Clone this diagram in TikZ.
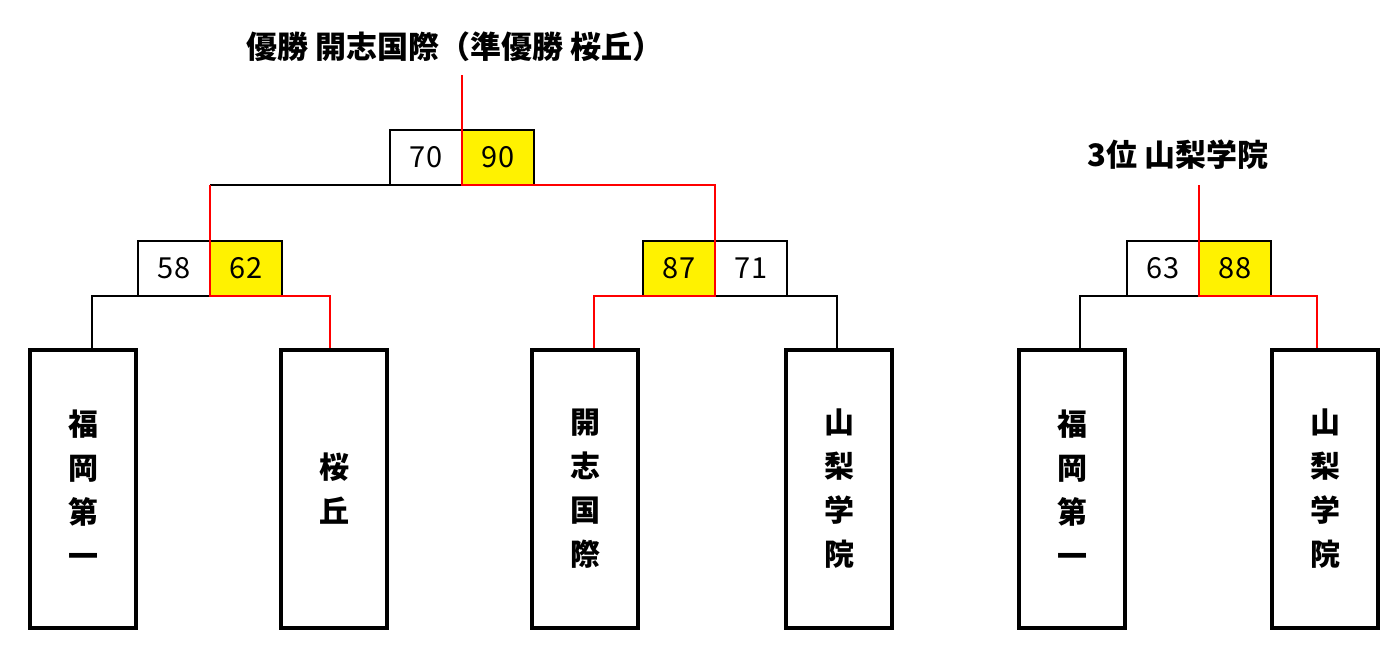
\documentclass[tikz,border=0pt]{standalone}
\usepackage{fontspec}
\setmainfont{Noto Sans CJK JP}
\usetikzlibrary{positioning}

\begin{document}
\begin{tikzpicture}[x=1pt, y=-1pt,
  team/.style={draw, line width=4pt, minimum width=106pt, minimum height=278pt, inner sep=0pt, align=center, font=\bfseries\fontsize{30}{44}\selectfont},
  score/.style={draw, line width=1.6pt, minimum width=72pt, minimum height=55pt, inner sep=0pt, outer sep=0pt, font=\fontsize{29}{30}\selectfont},
  won/.style={score, fill=yellow},
  title/.style={font=\bfseries\fontsize{31}{32}\selectfont},
  win/.style={draw=red, line width=1.6pt},
  lose/.style={draw=black, line width=1.6pt}]
\useasboundingbox (0,0) rectangle (1400,650);
\node[title] (champ) at (455,47) {優勝 開志国際（準優勝 桜丘）};
\node[title] (third) at (1178,155) {3位 山梨学院};
\coordinate (champtop) at (462,75);
\coordinate (thirdtop) at (1199,185);
\node[score] (f70) at (426,157.5) {70};
\node[won] (f90) [right=0pt of f70] {90};
\node[score] (s58) at (174,268.5) {58};
\node[won] (s62) [right=0pt of s58] {62};
\node[won] (s87) at (679,268.5) {87};
\node[score] (s71) [right=0pt of s87] {71};
\node[score] (b63) at (1163,268.5) {63};
\node[won] (b88) [right=0pt of b63] {88};
\node[team] (t1) at (83,489) {福\\岡\\第\\一};
\node[team] (t2) at (334,489) {桜\\丘};
\node[team] (t3) at (585,489) {開\\志\\国\\際};
\node[team] (t4) at (839,489) {山\\梨\\学\\院};
\node[team] (t5) at (1072,489) {福\\岡\\第\\一};
\node[team] (t6) at (1325,489) {山\\梨\\学\\院};
\path[lose] ([xshift=9pt]t1.north) |- (s58.south west);
\path[lose] ([xshift=-2pt]t4.north) |- (s71.south east);
\path[lose] ([xshift=8pt]t5.north) |- (b63.south west);
\path[lose] (s62.north west |- f70.south) -- (f70.south west);
\path[win] ([xshift=-4pt]t2.north) |- (s62.south east) -- (s62.south west) -- (s62.north west) -- (s62.north west |- f70.south);
\path[win] ([xshift=9pt]t3.north) |- (s87.south west) -- (s87.south east) -- (s87.north east) -- (s87.north east |- f90.south) -- (f90.south west) -- (champtop);
\path[win] ([xshift=-8pt]t6.north) |- (b88.south east) -- (b88.south west) -- (thirdtop);
\end{tikzpicture}
\end{document}
